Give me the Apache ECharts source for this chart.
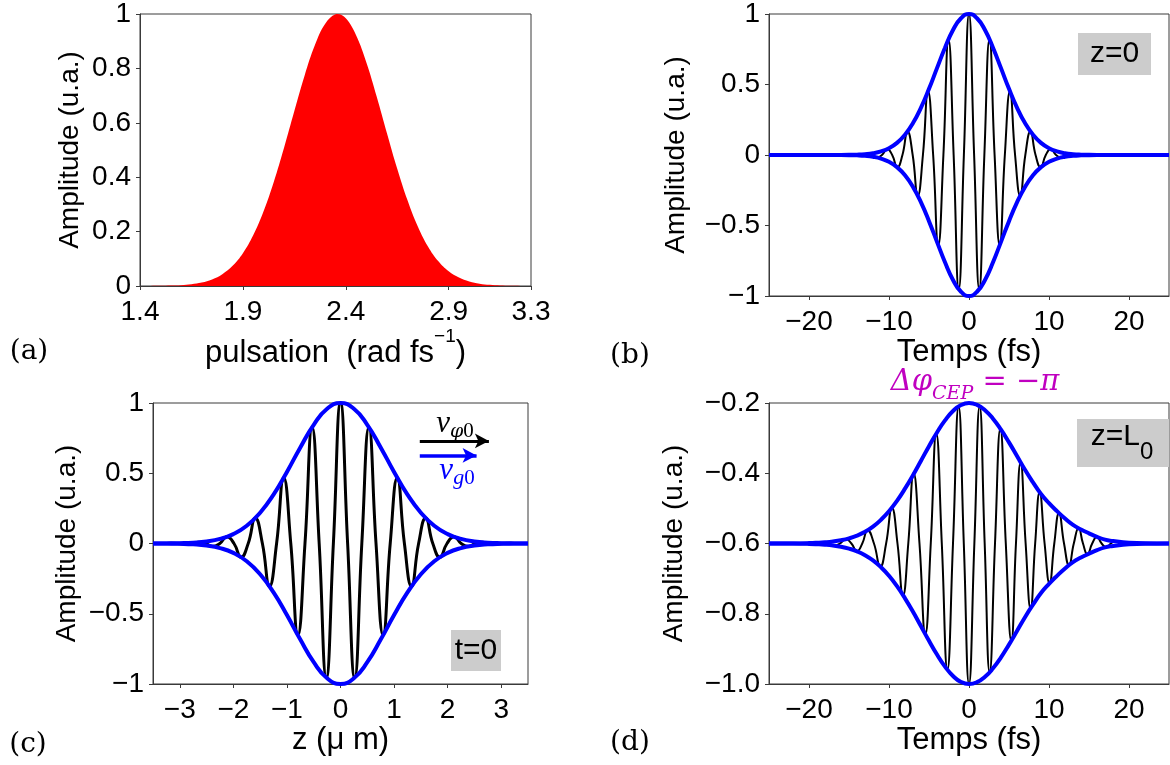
<!DOCTYPE html>
<html><head><meta charset="utf-8">
<script src="https://cdn.jsdelivr.net/npm/echarts@6.0.0/dist/echarts.min.js"></script>
<style>html,body{margin:0;padding:0;background:#fff}#c{width:1170px;height:765px}</style>
</head><body><div id="c"></div><script>
// ---------- Panel (a): spectrum ----------
const aOmega = [1.40,1.45,1.50,1.55,1.60,1.65,1.70,1.75,1.80,1.85,1.90,1.95,2.00,2.05,2.10,2.15,2.20,2.25,2.30,2.35,2.36,2.40,2.45,2.50,2.55,2.60,2.65,2.70,2.75,2.80,2.85,2.90,2.95,3.00,3.05,3.10,3.15,3.20,3.25,3.30];
const aAmp   = [0.0001,0.0003,0.0006,0.0014,0.0031,0.0065,0.0128,0.0242,0.0434,0.0742,0.1205,0.1862,0.2736,0.3825,0.5087,0.6434,0.7741,0.886,0.9646,0.999,1.0,0.984,0.922,0.822,0.697,0.562,0.431,0.315,0.2185,0.1443,0.0906,0.0541,0.0308,0.0166,0.0086,0.0042,0.0019,0.0009,0.0004,0.0001];
const aXTicks = [1.4,1.9,2.4,2.9,3.3];

// ---------- Panel (b): field vs time, z=0 ----------
const bEnvT     = [-25,-20,-18,-16,-15,-14,-13,-12,-11,-10,-9,-8,-7,-6,-5,-4,-3,-2,-1,0,1,2,3,4,5,6,7,8,9,10,11,12,13,14,15,16,18,20,25];
const bEnvUpper = [0,0,0.0001,0.0004,0.0011,0.0026,0.006,0.0127,0.0256,0.0483,0.0859,0.1438,0.2265,0.336,0.469,0.616,0.761,0.886,0.970,1,0.970,0.886,0.761,0.616,0.469,0.336,0.2265,0.1438,0.0859,0.0483,0.0256,0.0127,0.006,0.0026,0.0011,0.0004,0.0001,0,0];
const bEnvLower = [0,0,-0.0001,-0.0004,-0.0011,-0.0026,-0.006,-0.0127,-0.0256,-0.0483,-0.0859,-0.1438,-0.2265,-0.336,-0.469,-0.616,-0.761,-0.886,-0.970,-1,-0.970,-0.886,-0.761,-0.616,-0.469,-0.336,-0.2265,-0.1438,-0.0859,-0.0483,-0.0256,-0.0127,-0.006,-0.0026,-0.0011,-0.0004,-0.0001,0,0];
const bWave = [[-25,0],[-16,0],[-15.36,0.0008],[-14.72,0],[-14.08,-0.0025],[-13.44,0],[-12.8,0.007],[-12.16,0],[-11.52,-0.0179],[-10.88,0],[-10.24,0.0417],[-9.6,0],[-8.96,-0.0878],[-8.32,0],[-7.68,0.1675],[-7.04,0],[-6.4,-0.289],[-5.76,0],[-5.12,0.452],[-4.48,0],[-3.84,-0.64],[-3.2,0],[-2.56,0.82],[-1.92,0],[-1.28,-0.952],[-0.64,0],[0,1],[0.64,0],[1.28,-0.952],[1.92,0],[2.56,0.82],[3.2,0],[3.84,-0.64],[4.48,0],[5.12,0.452],[5.76,0],[6.4,-0.289],[7.04,0],[7.68,0.1675],[8.32,0],[8.96,-0.0878],[9.6,0],[10.24,0.0417],[10.88,0],[11.52,-0.0179],[12.16,0],[12.8,0.007],[13.44,0],[14.08,-0.0025],[14.72,0],[15.36,0.0008],[16,0],[25,0]];
const tTicks = [-20,-10,0,10,20];

// ---------- Panel (c): field vs z, t=0 ----------
const cEnvZ     = [-3.5,-3.25,-3,-2.75,-2.5,-2.25,-2,-1.75,-1.5,-1.25,-1,-0.75,-0.5,-0.25,0,0.25,0.5,0.75,1,1.25,1.5,1.75,2,2.25,2.5,2.75,3,3.25,3.5];
const cEnvUpper = [0,0.0008,0.0023,0.006,0.0147,0.0327,0.067,0.1263,0.219,0.348,0.509,0.684,0.845,0.959,1,0.959,0.845,0.684,0.509,0.348,0.219,0.1263,0.067,0.0327,0.0147,0.006,0.0023,0.0008,0];
const cEnvLower = [0,-0.0008,-0.0023,-0.006,-0.0147,-0.0327,-0.067,-0.1263,-0.219,-0.348,-0.509,-0.684,-0.845,-0.959,-1,-0.959,-0.845,-0.684,-0.509,-0.348,-0.219,-0.1263,-0.067,-0.0327,-0.0147,-0.006,-0.0023,-0.0008,0];
const cWave = [[-3.5,0],[-3.313,0],[-3.18,0.0011],[-3.048,0],[-2.915,-0.0032],[-2.783,0],[-2.65,0.0087],[-2.518,0],[-2.385,-0.0214],[-2.253,0],[-2.12,0.048],[-1.988,0],[-1.855,-0.0978],[-1.723,0],[-1.59,0.181],[-1.458,0],[-1.325,-0.305],[-1.193,0],[-1.06,0.468],[-0.928,0],[-0.795,-0.652],[-0.663,0],[-0.53,0.827],[-0.398,0],[-0.265,-0.954],[-0.133,0],[0,1],[0.133,0],[0.265,-0.954],[0.398,0],[0.53,0.827],[0.663,0],[0.795,-0.652],[0.928,0],[1.06,0.468],[1.193,0],[1.325,-0.305],[1.458,0],[1.59,0.181],[1.723,0],[1.855,-0.0978],[1.988,0],[2.12,0.048],[2.253,0],[2.385,-0.0214],[2.518,0],[2.65,0.0087],[2.783,0],[2.915,-0.0032],[3.048,0],[3.18,0.0011],[3.313,0],[3.5,0]];
const zTicks = [-3,-2,-1,0,1,2,3];
const cArrowPhase = [[1.48,0.73],[2.77,0.73]];
const cArrowGroup = [[1.48,0.627],[2.54,0.627]];

// ---------- Panel (d): field vs time, z=L0 ----------
const dEnvT     = [-25,-22,-20,-19,-18,-17,-16,-15,-14,-13,-12,-11,-10,-9,-8,-7,-6,-5,-4,-3,-2,-1,0,1,2,3,4,5,6,7,8,9,10,11,12,13,14,15,16,17,18,19,20,22,25];
const dEnvUpper = [-0.6,-0.5997,-0.5989,-0.598,-0.5966,-0.5943,-0.5907,-0.5853,-0.5776,-0.5667,-0.5519,-0.5325,-0.5081,-0.4784,-0.4439,-0.4054,-0.3644,-0.323,-0.2839,-0.2496,-0.2229,-0.2058,-0.2,-0.2052,-0.2205,-0.2447,-0.2759,-0.3121,-0.3509,-0.3901,-0.426,-0.459,-0.485,-0.508,-0.529,-0.547,-0.56,-0.571,-0.581,-0.589,-0.593,-0.596,-0.598,-0.5995,-0.6];
const dEnvLower = [-0.6,-0.6003,-0.6011,-0.602,-0.6034,-0.6057,-0.6093,-0.6147,-0.6224,-0.6333,-0.6481,-0.6675,-0.6919,-0.7216,-0.7561,-0.7946,-0.8356,-0.877,-0.9161,-0.9504,-0.9771,-0.9942,-1.0,-0.9948,-0.9795,-0.9553,-0.9241,-0.8879,-0.8491,-0.8099,-0.774,-0.741,-0.715,-0.692,-0.671,-0.653,-0.64,-0.629,-0.619,-0.611,-0.607,-0.604,-0.602,-0.6005,-0.6];
const dWave = [[-25,-0.6],[-19.0,-0.6],[-18.3,-0.597],[-17.58,-0.6],[-16.85,-0.606],[-16.13,-0.6],[-15.4,-0.587],[-14.7,-0.6],[-14.0,-0.622],[-13.34,-0.6],[-12.67,-0.562],[-11.88,-0.6],[-11.08,-0.666],[-10.36,-0.6],[-9.63,-0.498],[-8.94,-0.6],[-8.25,-0.748],[-7.59,-0.6],[-6.92,-0.4],[-6.19,-0.6],[-5.46,-0.858],[-4.78,-0.6],[-4.09,-0.287],[-3.4,-0.6],[-2.7,-0.959],[-2.0,-0.6],[-1.3,-0.21],[-0.65,-0.6],[0,-1.0],[0.67,-0.6],[1.33,-0.209],[1.96,-0.6],[2.58,-0.966],[3.25,-0.6],[3.92,-0.273],[4.6,-0.6],[5.29,-0.877],[5.87,-0.6],[6.45,-0.369],[7.08,-0.6],[7.7,-0.785],[8.27,-0.6],[8.83,-0.454],[9.45,-0.6],[10.07,-0.713],[10.66,-0.6],[11.25,-0.513],[11.88,-0.6],[12.5,-0.662],[13.1,-0.6],[13.7,-0.556],[14.25,-0.6],[14.8,-0.631],[15.4,-0.6],[16.0,-0.581],[16.58,-0.6],[17.15,-0.611],[17.73,-0.6],[18.3,-0.593],[18.85,-0.6],[19.4,-0.604],[19.95,-0.6],[20.5,-0.598],[21.0,-0.6],[25,-0.6]];

// ---------- build ----------
const FONT = 'Liberation Sans';
const SERIF = 'DejaVu Serif';
const MATH = 'Liberation Serif';
const AX = '#3a3a3a';
const BLUE = '#0000ff';
const MAG = '#c000c0';
const minus = s => String(s).replace('-', '\u2212');
const zip = (xs, ys) => xs.map((x, i) => [x, ys[i]]);

function xAxis(gi, min, max, ticks, fmt, name, gap, rich) {
  return {
    gridIndex: gi, type: 'value', min, max,
    axisLine: {show: true, onZero: false, lineStyle: {color: AX, width: 1}},
    axisTick: {show: true, inside: false, length: 4, lineStyle: {color: AX}, customValues: ticks},
    axisLabel: {color: '#000', fontFamily: FONT, fontSize: 28, margin: 12, customValues: ticks, formatter: fmt},
    splitLine: {show: false},
    name, nameLocation: 'middle', nameGap: gap,
    nameTextStyle: {color: '#000', fontFamily: FONT, fontSize: 31, rich: rich}
  };
}
function yAxis(gi, min, max, interval, fmt, gap) {
  return {
    gridIndex: gi, type: 'value', min, max, interval,
    axisLine: {show: true, onZero: false, lineStyle: {color: AX, width: 1}},
    axisTick: {show: true, inside: false, length: 4, lineStyle: {color: AX}},
    axisLabel: {color: '#000', fontFamily: FONT, fontSize: 28, margin: 9, formatter: fmt},
    splitLine: {show: false},
    name: 'Amplitude (u.a.)', nameLocation: 'middle', nameGap: gap,
    nameTextStyle: {color: '#000', fontFamily: FONT, fontSize: 28}
  };
}
const lineS = (xi, data, color, width, z) => ({
  type: 'line', xAxisIndex: xi, yAxisIndex: xi, data, showSymbol: false, symbol: 'none',
  smooth: 0.5, lineStyle: {color, width}, z, animation: false, silent: true
});

const fmt1 = v => (+v).toFixed(1);
const fmtPlain = v => minus(+(+v).toFixed(2));
const fmtD = v => minus((+v).toFixed(1));

const grid = {show: true, borderColor: AX, borderWidth: 1, backgroundColor: 'transparent'};
const panelLabel = (x, y, t) => ({type: 'text', x, y, style: {text: t, fontFamily: SERIF, fontSize: 28, fill: '#000', align: 'center', verticalAlign: 'middle'}});

const option = {
  backgroundColor: '#fff',
  animation: false,
  grid: [
    Object.assign({left: 140, top: 14, width: 391, height: 272}, grid),
    Object.assign({left: 769, top: 14, width: 400, height: 282}, grid),
    Object.assign({left: 153, top: 403, width: 375, height: 281}, grid),
    Object.assign({left: 769, top: 403, width: 400, height: 281}, grid)
  ],
  xAxis: [
    xAxis(0, 1.4, 3.3, aXTicks, fmt1, '{b|pulsation  (rad fs}{sup|\u22121}{b|)}', 39,
      {b: {fontFamily: FONT, fontSize: 31, verticalAlign: 'bottom', lineHeight: 42}, sup: {fontFamily: FONT, fontSize: 19, verticalAlign: 'top'}}),
    xAxis(1, -25, 25, tTicks, fmtPlain, 'Temps (fs)', 36),
    xAxis(2, -3.5, 3.5, zTicks, fmtPlain, 'z (\u03bc m)', 40),
    xAxis(3, -25, 25, tTicks, fmtPlain, 'Temps (fs)', 37)
  ],
  yAxis: [
    yAxis(0, 0, 1, 0.2, v => String(+(+v).toFixed(1)), 56),
    yAxis(1, -1, 1, 0.5, fmtPlain, 79),
    yAxis(2, -1, 1, 0.5, fmtPlain, 72),
    yAxis(3, -1.0, -0.2, 0.2, fmtD, 81)
  ],
  series: [
    {type: 'line', xAxisIndex: 0, yAxisIndex: 0, data: zip(aOmega, aAmp), showSymbol: false, symbol: 'none',
     smooth: 0.4, lineStyle: {width: 0}, areaStyle: {color: '#ff0000', opacity: 1}, silent: true},
    lineS(1, bWave, '#000', 2, 2),
    lineS(1, zip(bEnvT, bEnvUpper), BLUE, 4, 3),
    lineS(1, zip(bEnvT, bEnvLower), BLUE, 4, 3),
    Object.assign(lineS(2, cWave, '#000', 3, 2), {
      markLine: {silent: true, symbol: ['none', 'arrow'], symbolSize: [11, 14], label: {show: false},
        lineStyle: {color: '#000', width: 3, type: 'solid'},
        data: [[{coord: cArrowPhase[0]}, {coord: cArrowPhase[1]}]]}
    }),
    Object.assign(lineS(2, zip(cEnvZ, cEnvUpper), BLUE, 4, 3), {
      markLine: {silent: true, symbol: ['none', 'arrow'], symbolSize: [11, 14], label: {show: false},
        lineStyle: {color: BLUE, width: 3.5, type: 'solid'},
        data: [[{coord: cArrowGroup[0]}, {coord: cArrowGroup[1]}]]}
    }),
    lineS(2, zip(cEnvZ, cEnvLower), BLUE, 4, 3),
    lineS(3, dWave, '#000', 2, 2),
    lineS(3, zip(dEnvT, dEnvUpper), BLUE, 4, 3),
    lineS(3, zip(dEnvT, dEnvLower), BLUE, 4, 3)
  ],
  graphic: [
    panelLabel(29, 352, '(a)'),
    panelLabel(630, 356, '(b)'),
    panelLabel(28, 745, '(c)'),
    panelLabel(630, 743, '(d)'),
    {type: 'rect', shape: {x: 1078, y: 33, width: 73, height: 42}, style: {fill: '#cccccc'}, z: 10},
    {type: 'text', x: 1114.5, y: 54, z: 11, style: {text: 'z=0', fontFamily: FONT, fontSize: 30, fill: '#000', align: 'center', verticalAlign: 'middle'}},
    {type: 'rect', shape: {x: 451, y: 630, width: 50, height: 41}, style: {fill: '#cccccc'}, z: 10},
    {type: 'text', x: 476, y: 650.5, z: 11, style: {text: 't=0', fontFamily: FONT, fontSize: 30, fill: '#000', align: 'center', verticalAlign: 'middle'}},
    {type: 'rect', shape: {x: 1077, y: 419, width: 92, height: 48}, style: {fill: '#cccccc'}, z: 10},
    {type: 'text', x: 1122, y: 443, z: 11, style: {text: '{m|z=L}{s|0}', align: 'center', verticalAlign: 'middle', fill: '#000',
      rich: {m: {fontFamily: FONT, fontSize: 30, verticalAlign: 'top', lineHeight: 42}, s: {fontFamily: FONT, fontSize: 24, verticalAlign: 'bottom'}}}},
    {type: 'text', x: 975, y: 386, z: 11, style: {text: '{a|\u0394\u03c6}{s|CEP}{b| = \u2212}{a|\u03c0}', align: 'center', verticalAlign: 'middle', fill: MAG,
      rich: {a: {fontFamily: SERIF, fontStyle: 'italic', fontSize: 29, fill: MAG, verticalAlign: 'top', lineHeight: 36},
             b: {fontFamily: SERIF, fontSize: 29, fill: MAG, verticalAlign: 'top', lineHeight: 36},
             s: {fontFamily: SERIF, fontStyle: 'italic', fontSize: 19, fill: MAG, verticalAlign: 'bottom'}}}},
    {type: 'text', x: 455, y: 425, z: 11, style: {text: '{v|v}{s|\u03c6}{n|0}', align: 'center', verticalAlign: 'middle', fill: '#000',
      rich: {v: {fontFamily: MATH, fontStyle: 'italic', fontSize: 31, verticalAlign: 'top', lineHeight: 34},
             s: {fontFamily: SERIF, fontStyle: 'italic', fontSize: 19, verticalAlign: 'bottom'},
             n: {fontFamily: MATH, fontSize: 21, verticalAlign: 'bottom'}}}},
    {type: 'text', x: 457, y: 472, z: 11, style: {text: '{v|v}{s|g}{n|0}', align: 'center', verticalAlign: 'middle', fill: BLUE,
      rich: {v: {fontFamily: MATH, fontStyle: 'italic', fontSize: 31, fill: BLUE, verticalAlign: 'top', lineHeight: 34},
             s: {fontFamily: MATH, fontStyle: 'italic', fontSize: 22, fill: BLUE, verticalAlign: 'bottom'},
             n: {fontFamily: MATH, fontSize: 21, fill: BLUE, verticalAlign: 'bottom'}}}}
  ]
};
const chart = echarts.init(document.getElementById('c'), null, {renderer: 'canvas'});
chart.setOption(option);
</script></body></html>
